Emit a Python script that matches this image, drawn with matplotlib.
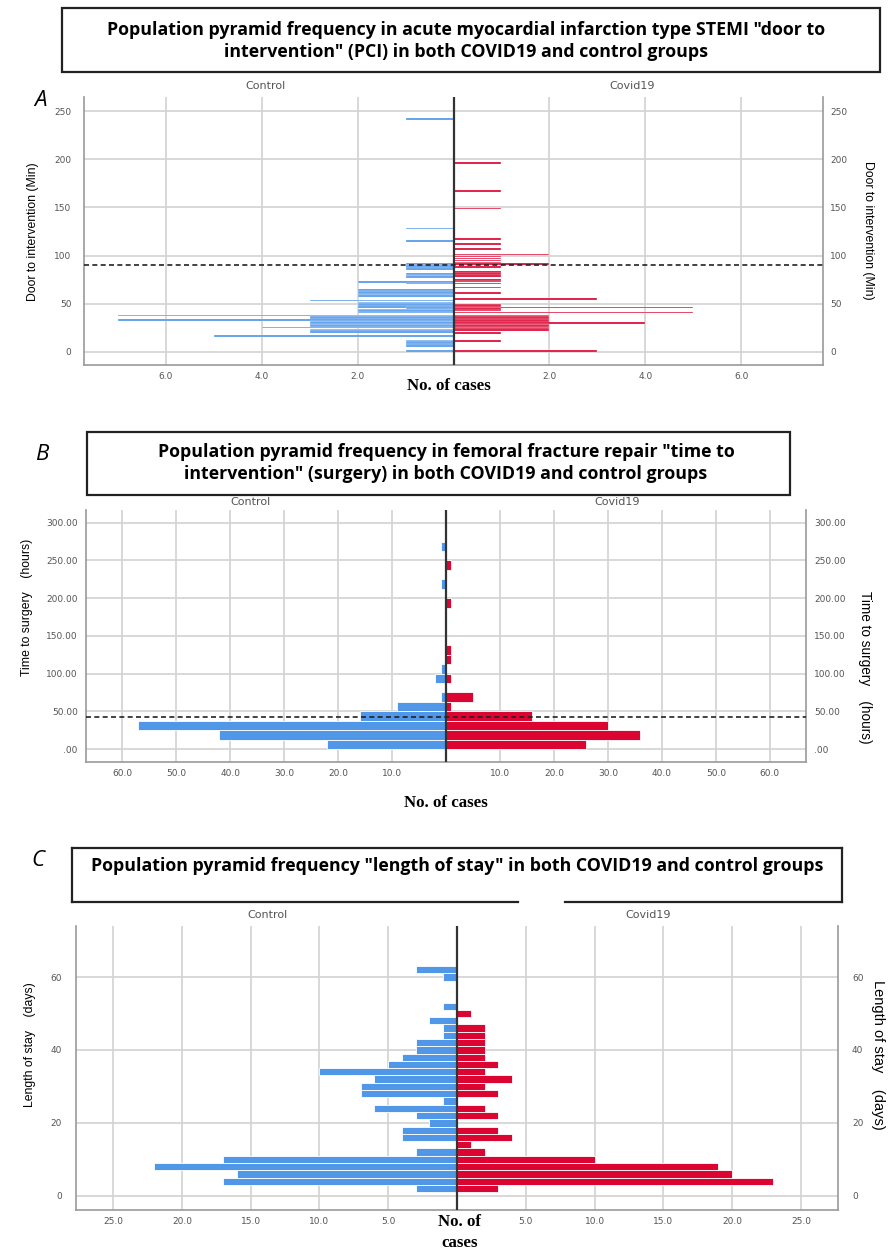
import numpy as np
import matplotlib
matplotlib.use("Agg")
import matplotlib.pyplot as plt
from matplotlib.ticker import FuncFormatter, FixedLocator
from matplotlib.patches import Rectangle
from matplotlib.lines import Line2D

# ---- data ----
# A: door to intervention (min) -> number of cases
a_ctrl_min = [242, 128, 115, 91, 89.5, 88, 86, 81, 79.5, 78, 72.5, 71, 64, 62.5, 61, 59.5, 58,
              53.5, 51.5, 50, 48.5, 47, 45.7, 44, 42.5, 41, 38, 36.5, 35, 33, 31.5, 30, 28.5, 27,
              25.3, 23.5, 22, 20.5, 16.5, 12, 10.5, 9, 7.5, 6, 1]
a_ctrl_n = [1, 1, 1, 1, 1, 1, 1, 1, 1, 1, 2, 1, 2, 2, 2, 2, 2,
            3, 2, 2, 2, 2, 1, 2, 2, 2, 7, 3, 3, 7, 3, 3, 3, 3,
            4, 3, 3, 3, 5, 1, 1, 1, 1, 1, 1]
a_covid_min = [196, 167, 149, 117, 112, 107, 101, 99, 97, 95, 93, 91, 88, 83, 81, 79, 75, 73, 71,
               67, 61, 55, 49, 47.5, 46, 44.5, 43, 41, 38, 36.5, 35, 33.5, 32, 30.3, 28.5, 27,
               25.5, 24, 22.5, 19.7, 11.4, 1]
a_covid_n = [1, 1, 1, 1, 1, 1, 2, 1, 1, 1, 1, 2, 1, 1, 1, 1, 1, 1, 1,
             1, 1, 3, 1, 1, 5, 1, 1, 5, 2, 2, 2, 2, 2, 4, 2, 2,
             2, 2, 2, 1, 1, 3]

# B: time to surgery (hours), 12.5 h bins
b_hours = [6.25, 18.75, 31.25, 43.75, 56.25, 68.75, 81.25, 93.75, 106.25, 118.75, 131.25,
           143.75, 156.25, 168.75, 181.25, 193.75, 206.25, 218.75, 231.25, 243.75, 256.25, 268.75]
b_ctrl_n = [22, 42, 57, 16, 9, 1, 0, 2, 1, 0, 0, 0, 0, 0, 0, 0, 0, 1, 0, 0, 0, 1]
b_covid_n = [26, 36, 30, 16, 1, 5, 0, 1, 0, 1, 1, 0, 0, 0, 0, 1, 0, 0, 0, 1, 0, 0]

# C: length of stay (days), 2 day bins
c_days = list(range(2, 64, 2))
c_ctrl_n = [3, 17, 16, 22, 17, 3, 0, 4, 4, 2, 3, 6, 1, 7, 7, 6, 10, 5, 4, 3, 3, 1, 1, 2, 0, 1,
            0, 0, 0, 1, 3]
c_covid_n = [3, 23, 20, 19, 10, 2, 1, 4, 3, 0, 3, 2, 0, 3, 2, 4, 2, 3, 2, 2, 2, 2, 2, 0, 1, 0,
             0, 0, 0, 0, 0]

titles = ['Population pyramid frequency in acute myocardial infarction type STEMI "door to\n'
          'intervention" (PCI) in both COVID19 and control groups',
          'Population pyramid frequency in femoral fracture repair "time to\n'
          'intervention" (surgery) in both COVID19 and control groups',
          'Population pyramid frequency "length of stay" in both COVID19 and control groups']

BLUE = '#5197e8'
RED = '#dc0532'
GRID = '#d2d2d2'
TICK = '#555555'

W, H = 896, 1250
fig = plt.figure(figsize=(W / 100, H / 100), dpi=100)


def fx(x):
    return x / W


def fy(y):
    return 1 - y / H


def make_axes(x0, x1, y0, y1):
    return fig.add_axes([fx(x0), fy(y1), fx(x1 - x0), (y1 - y0) / H])


def pyramid(ax, yc, ctrl, yr, covid, h, xmax, xticks, ylim, yticks, ylabfmt, fmt, dash=None,
            lpad=8, rpad=4, elw=0.6):
    yc = np.array(yc, float)
    yr = np.array(yr, float)
    ctrl = np.array(ctrl, float)
    covid = np.array(covid, float)
    m = ctrl > 0
    ax.barh(yc[m], -ctrl[m], height=h, color=BLUE, edgecolor='white', linewidth=elw, zorder=2)
    m = covid > 0
    ax.barh(yr[m], covid[m], height=h, color=RED, edgecolor='white', linewidth=elw, zorder=2)
    ax.set_xlim(-xmax, xmax)
    ax.set_ylim(*ylim)
    xt = [-t for t in xticks[::-1]] + list(xticks)
    ax.xaxis.set_major_locator(FixedLocator(xt))
    ax.xaxis.set_major_formatter(FuncFormatter(lambda v, p: fmt % abs(v)))
    ax.yaxis.set_major_locator(FixedLocator(yticks))
    ax.yaxis.set_major_formatter(FuncFormatter(lambda v, p: ylabfmt(v)))
    ax.grid(True, color=GRID, linewidth=1.2)
    ax.set_axisbelow(True)
    ax.axvline(0, color='#333333', linewidth=1.6, zorder=3)
    if dash is not None:
        ax.axhline(dash, color='#222222', linewidth=1.2, linestyle=(0, (3, 2)), zorder=4)
    for s in ['left', 'right', 'bottom']:
        ax.spines[s].set_color('#999999')
        ax.spines[s].set_linewidth(1.2)
    ax.spines['top'].set_visible(False)
    ax.tick_params(length=0, labelsize=6.5, labelcolor=TICK, pad=lpad)
    ax.tick_params(axis='x', pad=5)
    ax2 = ax.twinx()
    ax2.set_ylim(*ylim)
    ax2.yaxis.set_major_locator(FixedLocator(yticks))
    ax2.yaxis.set_major_formatter(FuncFormatter(lambda v, p: ylabfmt(v)))
    ax2.tick_params(length=0, labelsize=6.5, labelcolor=TICK, pad=rpad)
    for s in ax2.spines.values():
        s.set_visible(False)


def title_box(x0, x1, y0, y1, text, ty, gap=None, tx=None):
    lw = 1.6
    if gap is None:
        fig.patches.append(Rectangle((fx(x0), fy(y1)), fx(x1 - x0), (y1 - y0) / H,
                                     transform=fig.transFigure, fill=False,
                                     edgecolor='#222222', linewidth=lw))
    else:
        segs = [((x0, x1), (y0, y0)), ((x0, x0), (y0, y1)), ((x1, x1), (y0, y1)),
                ((x0, gap[0]), (y1, y1)), ((gap[1], x1), (y1, y1))]
        for xs, ys in segs:
            fig.lines.append(Line2D([fx(xs[0]), fx(xs[1])], [fy(ys[0]), fy(ys[1])],
                                    transform=fig.transFigure, color='#222222', linewidth=lw))
    if tx is None:
        tx = (x0 + x1) / 2
    fig.text(fx(tx), fy(ty), text, ha='center', va='center', fontsize=12.8,
             fontweight='bold', family=['Open Sans', 'DejaVu Sans'], linespacing=1.22)


def label(x, y, s, **kw):
    fig.text(fx(x), fy(y), s, ha='center', va='center', **kw)


side_kw = dict(fontsize=8, color='#555555')
ylab_kw = dict(fontsize=8.8, family=['Liberation Sans', 'DejaVu Sans'])
cases_kw = dict(fontsize=12.2, fontweight='bold', family=['Liberation Serif', 'DejaVu Serif'])
panel_kw = dict(fontsize=16, fontstyle='italic', family=['Open Sans', 'DejaVu Sans'])

# ---- panel A ----
title_box(62, 880, 8, 72, titles[0], 41, tx=466)
label(40, 100, 'A', **panel_kw)
label(265, 86, 'Control', **side_kw)
label(632, 86, 'Covid19', **side_kw)
axA = make_axes(84, 823, 97, 365)
pyramid(axA, a_ctrl_min, a_ctrl_n, a_covid_min, a_covid_n, 1.7, 7.7, [2, 4, 6], (-13.5, 264.6),
        [0, 50, 100, 150, 200, 250], lambda v: '%d' % v, '%.1f', dash=90, lpad=9, rpad=5,
        elw=0.2)
label(449, 386, 'No. of cases', **cases_kw)
label(33, 232, 'Door to intervention (Min)', rotation=90, **ylab_kw)
label(868, 230, 'Door to intervention (Min)', rotation=-90, **ylab_kw)

# ---- panel B ----
title_box(87, 790, 432, 495, titles[1], 463, tx=446)
label(42, 455, 'B', **panel_kw)
label(250, 502, 'Control', **side_kw)
label(617, 502, 'Covid19', **side_kw)
axB = make_axes(86, 806, 510, 762)
pyramid(axB, b_hours, b_ctrl_n, b_hours, b_covid_n, 12.5, 66.7, [10, 20, 30, 40, 50, 60],
        (-17.2, 316.8), [0, 50, 100, 150, 200, 250, 300], lambda v: ('%.2f' % v).lstrip('0'),
        '%.1f', dash=43, lpad=6, rpad=6)
label(446, 803, 'No. of cases', **cases_kw)
label(27, 607, 'Time to surgery    (hours)', rotation=90, **ylab_kw)
label(865, 667, 'Time to surgery    (hours)', rotation=-90, fontsize=9.8,
      family=['Liberation Sans', 'DejaVu Sans'])

# ---- panel C ----
title_box(72, 842, 848, 902, titles[2], 866, gap=(518, 565))
label(38, 860, 'C', **panel_kw)
label(267, 915, 'Control', **side_kw)
label(648, 915, 'Covid19', **side_kw)
axC = make_axes(76, 838, 926, 1210)
pyramid(axC, c_days, c_ctrl_n, c_days, c_covid_n, 2, 27.7, [5, 10, 15, 20, 25], (-3.9, 74),
        [0, 20, 40, 60], lambda v: '%d' % v, '%.1f', lpad=10, rpad=10)
label(460, 1222, 'No. of', **cases_kw)
label(460, 1243, 'cases', **cases_kw)
label(30, 1045, 'Length of stay    (days)', rotation=90, **ylab_kw)
label(878, 1055, 'Length of stay    (days)', rotation=-90, fontsize=10.5,
      family=['Liberation Sans', 'DejaVu Sans'])

fig.savefig('out.png', dpi=100)
